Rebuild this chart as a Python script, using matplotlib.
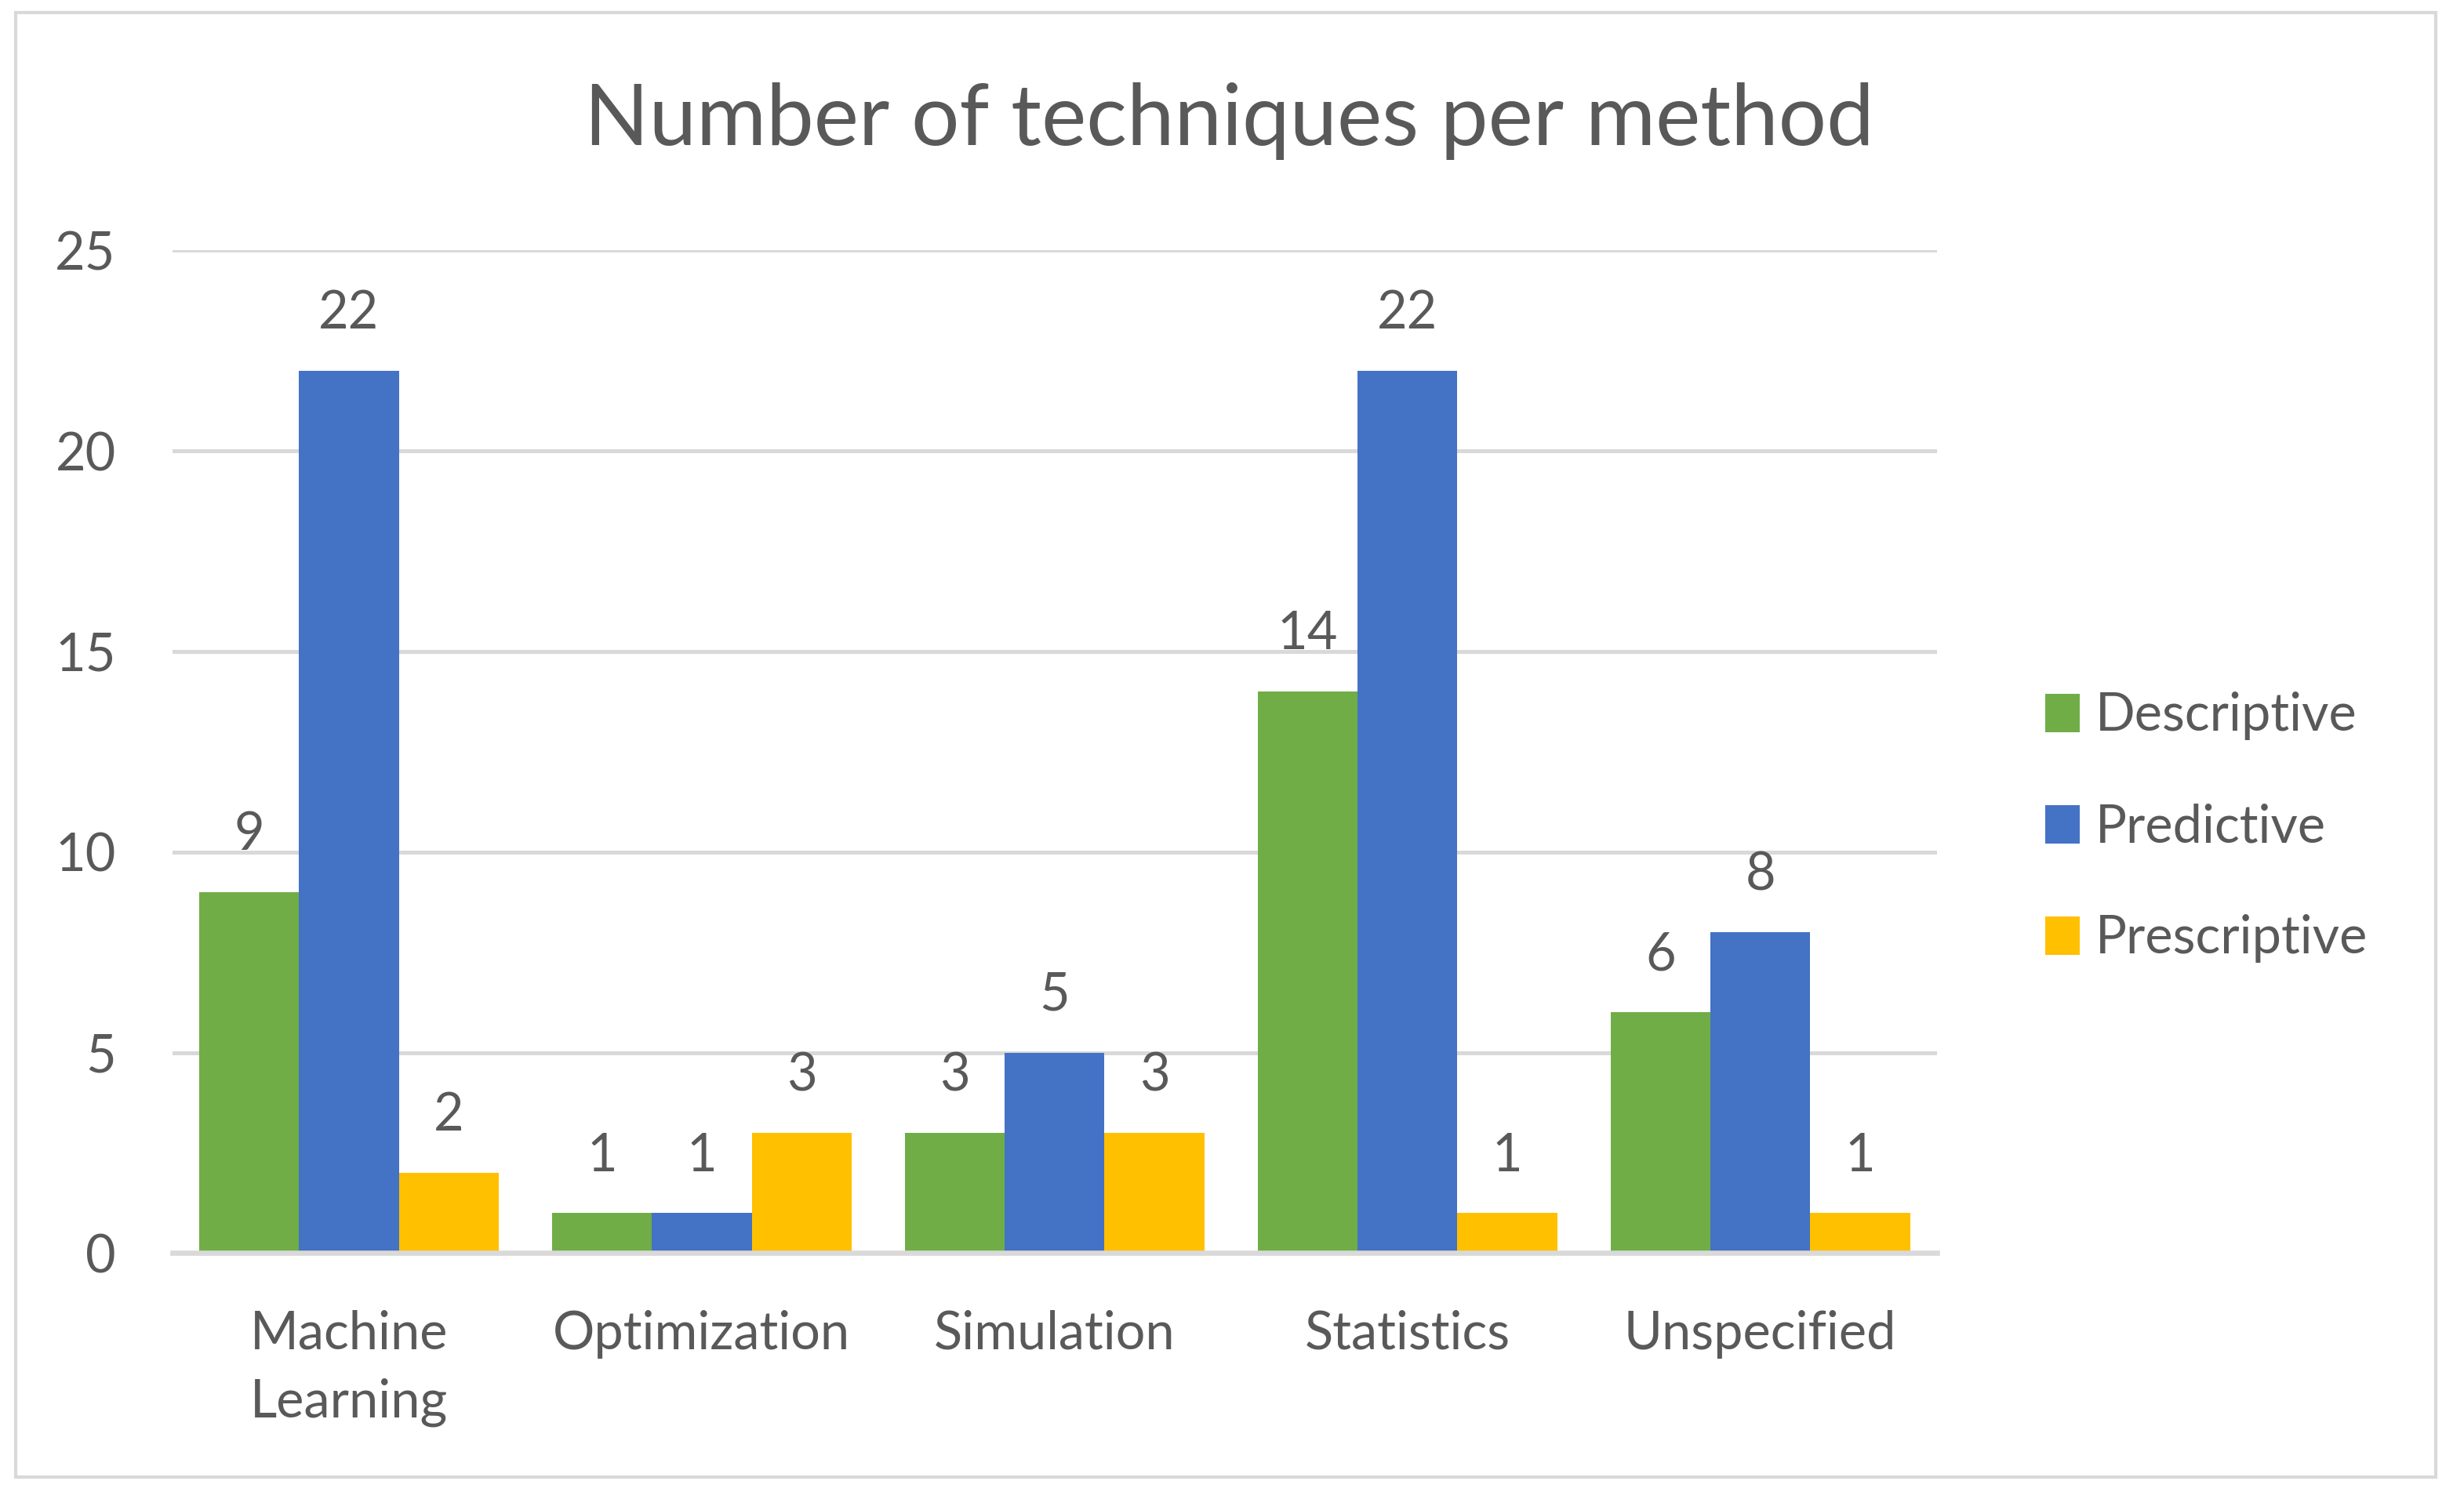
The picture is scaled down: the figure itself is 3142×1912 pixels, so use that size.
import numpy as np
from matplotlib import pyplot as plt
from matplotlib.patches import Rectangle

# data
categories = ['Machine\nLearning', 'Optimization', 'Simulation', 'Statistics', 'Unspecified']
series_names = ['Descriptive', 'Predictive', 'Prescriptive']
descriptive = [9, 1, 3, 14, 6]
predictive = [22, 1, 5, 22, 8]
prescriptive = [2, 3, 3, 1, 1]
yticks = [0, 5, 10, 15, 20, 25]

colors = ['#70AD47', '#4472C4', '#FFC000']
text_color = '#595959'
grid_color = '#D9D9D9'

plt.rcParams['font.family'] = ['Lato', 'DejaVu Sans']

fig = plt.figure(figsize=(15.71, 9.56), dpi=200)
ax = fig.add_axes([0.070, 0.164, 0.716, 0.669])

x = np.arange(len(categories))
w = 0.283
values = [descriptive, predictive, prescriptive]
for i, (name, vals) in enumerate(zip(series_names, values)):
    bars = ax.bar(x + (i - 1) * w, vals, w, color=colors[i], label=name, zorder=3)
    for b, v in zip(bars, vals):
        ax.annotate(str(v), (b.get_x() + b.get_width() / 2, v), xytext=(0, 15),
                    textcoords='offset points', ha='center', va='bottom',
                    fontsize=24, color=text_color)

ax.set_xlim(-0.5, len(categories) - 0.5)
ax.set_ylim(0, 25)
ax.set_yticks(yticks)
ax.set_xticks(x)
ax.set_xticklabels(categories, fontsize=24, color=text_color, linespacing=1.5)
ax.tick_params(axis='y', length=0, pad=26, labelsize=24, labelcolor=text_color)
ax.tick_params(axis='x', length=0, pad=26)
ax.yaxis.grid(True, color=grid_color, linewidth=1.8, zorder=0)
for s in ['top', 'right', 'left']:
    ax.spines[s].set_visible(False)
ax.spines['bottom'].set_color(grid_color)
ax.spines['bottom'].set_linewidth(2.4)
ax.spines['bottom'].set_zorder(4)

fig.text(0.499, 0.919, 'Number of techniques per method', ha='center', va='center',
         fontsize=39, color=text_color)

fig.legend(loc='center left', bbox_to_anchor=(0.811, 0.448), frameon=False,
           fontsize=24, labelcolor=text_color, handlelength=0.66, handleheight=0.75,
           handletextpad=0.3, labelspacing=1.2)

# outer chart border
fig.patches.append(Rectangle((20 / 3142, 1 - 1884 / 1912), 3086 / 3142, 1868 / 1912,
                             transform=fig.transFigure, fill=False,
                             edgecolor=grid_color, linewidth=1.5))

fig.savefig('out.png', dpi=200)
